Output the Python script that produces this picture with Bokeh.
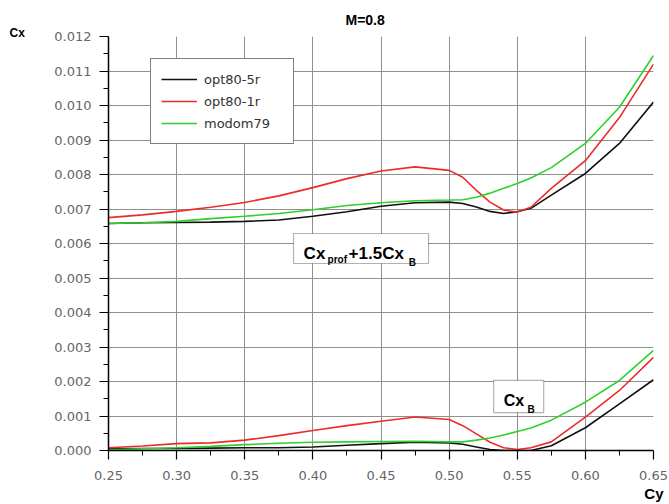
from bokeh.plotting import figure
from bokeh.models import Label, BoxAnnotation, FixedTicker, PrintfTickFormatter, Range1d, Title
from bokeh.embed import file_html
from bokeh.resources import INLINE

# ---------------- data ----------------
cy = [0.25, 0.275, 0.30, 0.325, 0.35, 0.375, 0.40, 0.425, 0.45, 0.475, 0.50,
      0.51, 0.52, 0.53, 0.54, 0.55, 0.56, 0.575, 0.60, 0.625, 0.65]

# Cx_prof + 1.5 Cx_B
prof_opt80_5r = [0.00658, 0.00660, 0.00661, 0.00662, 0.00664, 0.00668, 0.00679, 0.00692,
                 0.00708, 0.00718, 0.00720, 0.00716, 0.00706, 0.00693, 0.00687, 0.00692,
                 0.00702, 0.00740, 0.00803, 0.00890, 0.01010]
prof_opt80_1r = [0.00675, 0.00683, 0.00693, 0.00705, 0.00719, 0.00738, 0.00762, 0.00788,
                 0.00810, 0.00822, 0.00812, 0.00792, 0.00754, 0.00720, 0.00697, 0.00691,
                 0.00705, 0.00760, 0.00840, 0.00965, 0.01120]
prof_modom79 = [0.00658, 0.00660, 0.00664, 0.00672, 0.00679, 0.00687, 0.00698, 0.00710,
                0.00718, 0.00724, 0.00726, 0.00727, 0.00734, 0.00746, 0.00760, 0.00774,
                0.00790, 0.00820, 0.00890, 0.00995, 0.01145]

# Cx_B
b_opt80_5r = [0.00005, 0.00006, 0.00006, 0.00007, 0.00008, 0.00008, 0.00010, 0.00015,
              0.00020, 0.00024, 0.00022, 0.00018, 0.00010, 0.00003, 0.00000, 0.00000,
              0.00000, 0.00014, 0.00066, 0.00135, 0.00205]
b_opt80_1r = [0.00008, 0.00013, 0.00020, 0.00022, 0.00030, 0.00043, 0.00058, 0.00072,
              0.00085, 0.00097, 0.00090, 0.00072, 0.00048, 0.00024, 0.00008, 0.00003,
              0.00008, 0.00025, 0.00097, 0.00174, 0.00270]
b_modom79 = [0.00002, 0.00005, 0.00008, 0.00012, 0.00017, 0.00021, 0.00024, 0.00025,
             0.00026, 0.00027, 0.00025, 0.00025, 0.00030, 0.00036, 0.00045, 0.00055,
             0.00065, 0.00088, 0.00140, 0.00203, 0.00290]

series_names = ["opt80-5r", "opt80-1r", "modom79"]

x_ticks = [0.25, 0.30, 0.35, 0.40, 0.45, 0.50, 0.55, 0.60, 0.65]
x_minor = [0.275, 0.325, 0.375, 0.425, 0.475, 0.525, 0.575, 0.625]
y_ticks = [0.000, 0.001, 0.002, 0.003, 0.004, 0.005, 0.006, 0.007, 0.008, 0.009, 0.010, 0.011, 0.012]
y_minor = [0.0005, 0.0015, 0.0025, 0.0035, 0.0045, 0.0055, 0.0065, 0.0075, 0.0085, 0.0095, 0.0105, 0.0115]

# ---------------- figure ----------------
p = figure(width=669, height=504, x_range=Range1d(0.25, 0.65), y_range=Range1d(0.0, 0.012),
           output_backend="svg", toolbar_location=None,
           min_border_left=108, min_border_right=16, min_border_top=36, min_border_bottom=54)
p.outline_line_color = None
p.background_fill_color = "white"
p.border_fill_color = "white"

BF = "Liberation Sans"

# main title (outermost above)
p.title.text = "M=0.8"
p.title.align = "left"
p.title.offset = 237
p.title.standoff = 0
p.title.text_font = BF
p.title.text_font_size = "14px"
p.title.text_font_style = "bold"
p.title.text_color = "black"

# "Cx" at the top of the y axis
p.add_layout(Title(text="Cx", align="left", offset=-99, standoff=-7,
                   text_font=BF, text_font_size="12px", text_font_style="bold",
                   text_color="black"), "above")
# "Cy" below the right end of the x axis
p.add_layout(Title(text="Cy", align="right", offset=-10, standoff=0,
                   text_font=BF, text_font_size="15px", text_font_style="bold",
                   text_color="black"), "below")

TICK_FONT = "DejaVu Sans"
for ax, ticks, minor, fmt, so in ((p.xaxis[0], x_ticks, x_minor, "%.2f", 11),
                                  (p.yaxis[0], y_ticks, y_minor, "%.3f", 8)):
    ax.ticker = FixedTicker(ticks=ticks, minor_ticks=minor)
    ax.formatter = PrintfTickFormatter(format=fmt)
    ax.axis_line_color = "black"
    ax.axis_line_width = 1.5
    ax.major_tick_line_color = "black"
    ax.major_tick_line_width = 1.2
    ax.minor_tick_line_color = "black"
    ax.major_tick_in = 0
    ax.major_tick_out = 9
    ax.minor_tick_in = 0
    ax.minor_tick_out = 5
    ax.major_label_text_font = TICK_FONT
    ax.major_label_text_font_size = "13px"
    ax.major_label_text_color = "#666666"
    ax.major_label_standoff = so

p.xgrid.grid_line_color = "#8f8f8f"
p.ygrid.grid_line_color = "#8f8f8f"
p.xgrid.grid_line_width = 1
p.ygrid.grid_line_width = 1

colors = ["#111111", "#ee2a2a", "#2ed02e"]
profs = [prof_opt80_5r, prof_opt80_1r, prof_modom79]
bs = [b_opt80_5r, b_opt80_1r, b_modom79]

for name, col, yp in zip(series_names, colors, profs):
    p.line(cy, yp, line_color=col, line_width=1.6, legend_label=name)
for col, yb in zip(colors, bs):
    p.line(cy, yb, line_color=col, line_width=1.6)

lg = p.legend[0]
lg.location = (42, 306)
lg.border_line_color = "black"
lg.border_line_width = 1
lg.background_fill_color = "white"
lg.background_fill_alpha = 1.0
lg.padding = 10
lg.spacing = 2
lg.margin = 0
lg.glyph_width = 36
lg.glyph_height = 20
lg.label_height = 20
lg.label_standoff = 7
lg.label_width = 79
lg.label_text_font = TICK_FONT
lg.label_text_font_size = "13px"
lg.label_text_color = "#333333"

# ---------------- annotations ----------------
def lab(x, y, text, size):
    p.add_layout(Label(x=x, y=y, text=text, text_font=BF, text_font_size=size,
                       text_font_style="bold", text_color="black",
                       text_align="left", text_baseline="alphabetic"))

# Cx_prof + 1.5Cx_B box
p.add_layout(BoxAnnotation(left=0.3858, right=0.4849, bottom=0.00542, top=0.00629,
                           fill_color="white", fill_alpha=1.0,
                           line_color="black", line_width=1.2, level="annotation"))
lab(0.3932, 0.00571, "Cx", "17px")
lab(0.4108, 0.00554, "prof", "10px")
lab(0.4262, 0.00571, "+1.5Cx", "17px")
lab(0.4703, 0.00545, "B", "10px")

# Cx_B box
p.add_layout(BoxAnnotation(left=0.5327, right=0.5694, bottom=0.00110, top=0.00203,
                           fill_color="white", fill_alpha=1.0,
                           line_color="black", line_width=1.2, level="annotation"))
lab(0.5400, 0.00145, "Cx", "16px")
lab(0.5576, 0.00119, "B", "10px")

open("out.html", "w").write(file_html(p, INLINE))
